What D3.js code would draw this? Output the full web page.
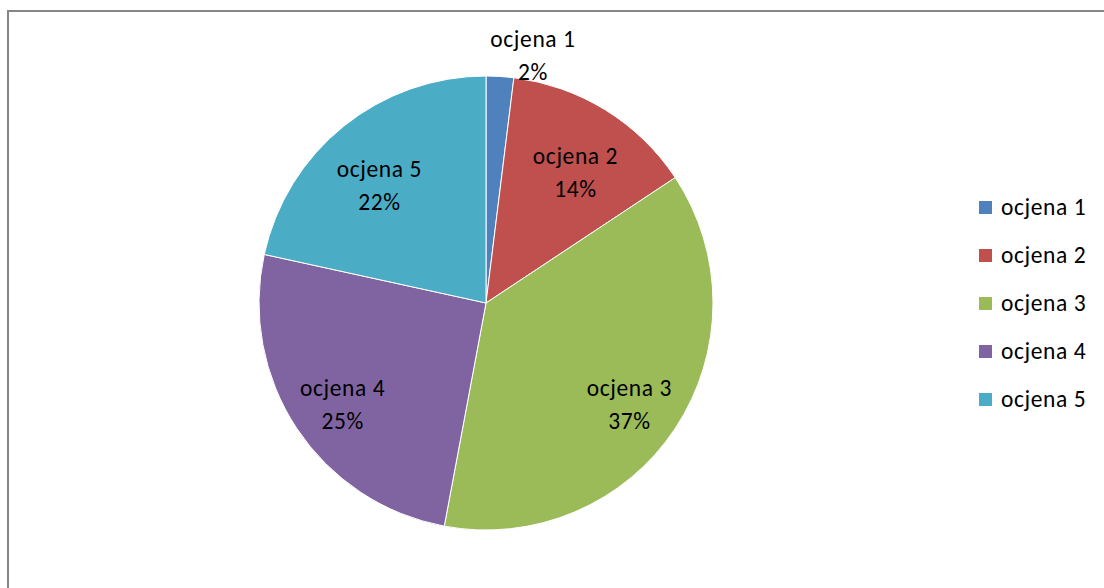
<!DOCTYPE html>
<html>
<head>
<meta charset="utf-8">
<script src="https://cdn.jsdelivr.net/npm/d3@7"></script>
<style>
  html, body { margin: 0; padding: 0; background: #fff; overflow: hidden; }
  text { font-family: Carlito, Calibri, Lato, sans-serif; letter-spacing: 0.6px; }
</style>
</head>
<body>
<div id="chart"></div>
<script>
var width = 1104;
var height = 588;

// grades and number of answers (percent labels computed from them)
var categories = ["ocjena 1", "ocjena 2", "ocjena 3", "ocjena 4", "ocjena 5"];
var counts = [1, 7, 19, 13, 11];
var colors = ["#4F81BD", "#C0504D", "#9BBB59", "#8064A2", "#4BACC6"];

var cx = 486, cy = 303, radius = 227;
var labelRadius = 170;
var fontSize = 23.5;

var svg = d3.select("#chart")
    .append("svg")
    .attr("width", width)
    .attr("height", height);

// chart area border (open on right/bottom, cut off by the window)
svg.append("rect")
    .attr("x", 8)
    .attr("y", 11)
    .attr("width", 1200)
    .attr("height", 700)
    .attr("fill", "none")
    .attr("stroke", "#868686")
    .attr("stroke-width", 2);

var total = d3.sum(counts);
var pie = d3.pie().sort(null).value(d => d);
var arcs = pie(counts);
var arc = d3.arc().innerRadius(0).outerRadius(radius);

var g = svg.append("g")
    .attr("transform", "translate(" + cx + "," + cy + ")");

g.selectAll(".slice")
    .data(arcs)
    .enter()
    .append("path")
    .attr("class", "slice")
    .attr("d", arc)
    .attr("fill", (d, i) => colors[i])
    .attr("stroke", "#fff")
    .attr("stroke-width", 1);

// data labels: name + percent
var labels = g.selectAll(".lbl")
    .data(arcs)
    .enter()
    .append("text")
    .attr("class", "lbl")
    .attr("text-anchor", "middle")
    .style("font-size", fontSize + "px")
    .attr("fill", "#000")
    .attr("transform", function(d) {
        var a = (d.startAngle + d.endAngle) / 2;
        var x, y;
        if (d.value / total < 0.05) {
            // small slice: label sits outside, above the arc
            x = radius * Math.sin(a) + 33;
            y = -radius * Math.cos(a) - 29;
        } else if (Math.cos(a) < 0) {
            var r = labelRadius + 2;
            x = r * Math.sin(a);
            y = -r * Math.cos(a) - 2;
        } else {
            x = labelRadius * Math.sin(a);
            y = -labelRadius * Math.cos(a) + 6;
        }
        return "translate(" + x + "," + y + ")";
    });

labels.append("tspan")
    .attr("x", 0)
    .attr("y", 0)
    .text((d, i) => categories[i]);

labels.append("tspan")
    .attr("x", 0)
    .attr("y", 33)
    .text(d => Math.round(d.value / total * 100) + "%");

// legend
var legend = svg.append("g")
    .attr("transform", "translate(979,201)");

var items = legend.selectAll(".item")
    .data(categories)
    .enter()
    .append("g")
    .attr("class", "item")
    .attr("transform", (d, i) => "translate(0," + (i * 48) + ")");

items.append("rect")
    .attr("width", 13)
    .attr("height", 13)
    .attr("fill", (d, i) => colors[i]);

items.append("text")
    .attr("x", 22)
    .attr("y", 14)
    .style("font-size", fontSize + "px")
    .attr("fill", "#000")
    .text(d => d);
</script>
</body>
</html>
